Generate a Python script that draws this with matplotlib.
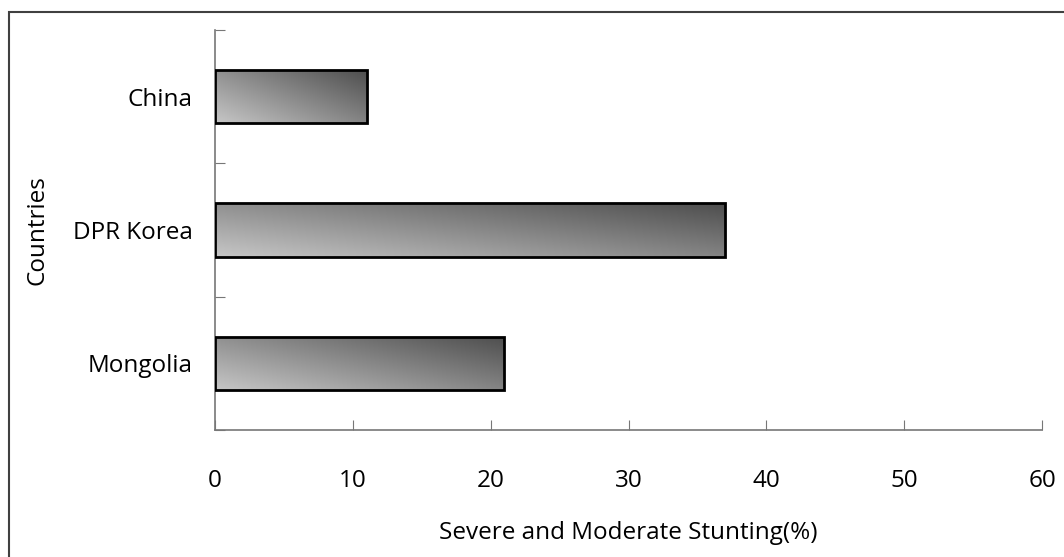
import numpy as np
import matplotlib.pyplot as plt
from matplotlib.patches import Rectangle
from matplotlib.colors import LinearSegmentedColormap

# Data
countries = ['Mongolia', 'DPR Korea', 'China']
stunting = [21, 37, 11]
x_ticks = [0, 10, 20, 30, 40, 50, 60]

plt.rcParams['font.family'] = ['Open Sans', 'DejaVu Sans']

fig = plt.figure(figsize=(10.64, 5.57), dpi=100)
ax = fig.add_axes([215/1064, 1 - 430/557, (1042 - 215)/1064, 400/557])

# frame around the whole figure (cut off on right and bottom)
fig.patches.append(Rectangle((9/1064, -0.1), 1.2, 1 - 12/557 + 0.1, transform=fig.transFigure,
                             fill=False, edgecolor='#404040', linewidth=1.5))

pos = np.arange(len(countries))
bars = ax.barh(pos, stunting, height=0.4, facecolor='none', edgecolor='black',
               linewidth=2, zorder=3)

# diagonal grey gradient inside each bar (light top-left, dark bottom-right)
cmap = LinearSegmentedColormap.from_list('g', ['#c6c6c6', '#4e4e4e'])
u = np.linspace(0, 1, 200)
v = np.linspace(0, 1, 50)
U, V = np.meshgrid(u, v)
grad = (U * 0.55 + V * 0.45)
for b in bars:
    x0, y0 = b.get_x(), b.get_y()
    w, h = b.get_width(), b.get_height()
    im = ax.imshow(grad, extent=[x0, x0 + w, y0 + h, y0], cmap=cmap, vmin=0, vmax=1,
                   aspect='auto', zorder=2, interpolation='bilinear')
    im.set_clip_path(b)

ax.set_xlim(0, 60)
ax.set_ylim(-0.5, 2.5)
ax.set_xticks(x_ticks)
ax.set_yticks([-0.5, 0.5, 1.5, 2.5])
ax.set_yticklabels([])
ax.set_yticks(pos, minor=True)
ax.set_yticklabels(countries, minor=True)

for s in ['top', 'right']:
    ax.spines[s].set_visible(False)
for s in ['left', 'bottom']:
    ax.spines[s].set_color('#777777')
    ax.spines[s].set_linewidth(1.2)

fs = 17.5
ax.tick_params(axis='x', direction='in', length=7, color='#777777', pad=28, labelsize=fs)
ax.tick_params(axis='y', which='major', direction='in', length=7, color='#777777')
ax.tick_params(axis='y', which='minor', length=0, pad=16, labelsize=fs)

ax.set_xlabel('Severe and Moderate Stunting(%)', fontsize=fs, labelpad=20)
ax.set_ylabel('Countries', fontsize=fs, labelpad=17)

fig.savefig('out.png', dpi=100)
